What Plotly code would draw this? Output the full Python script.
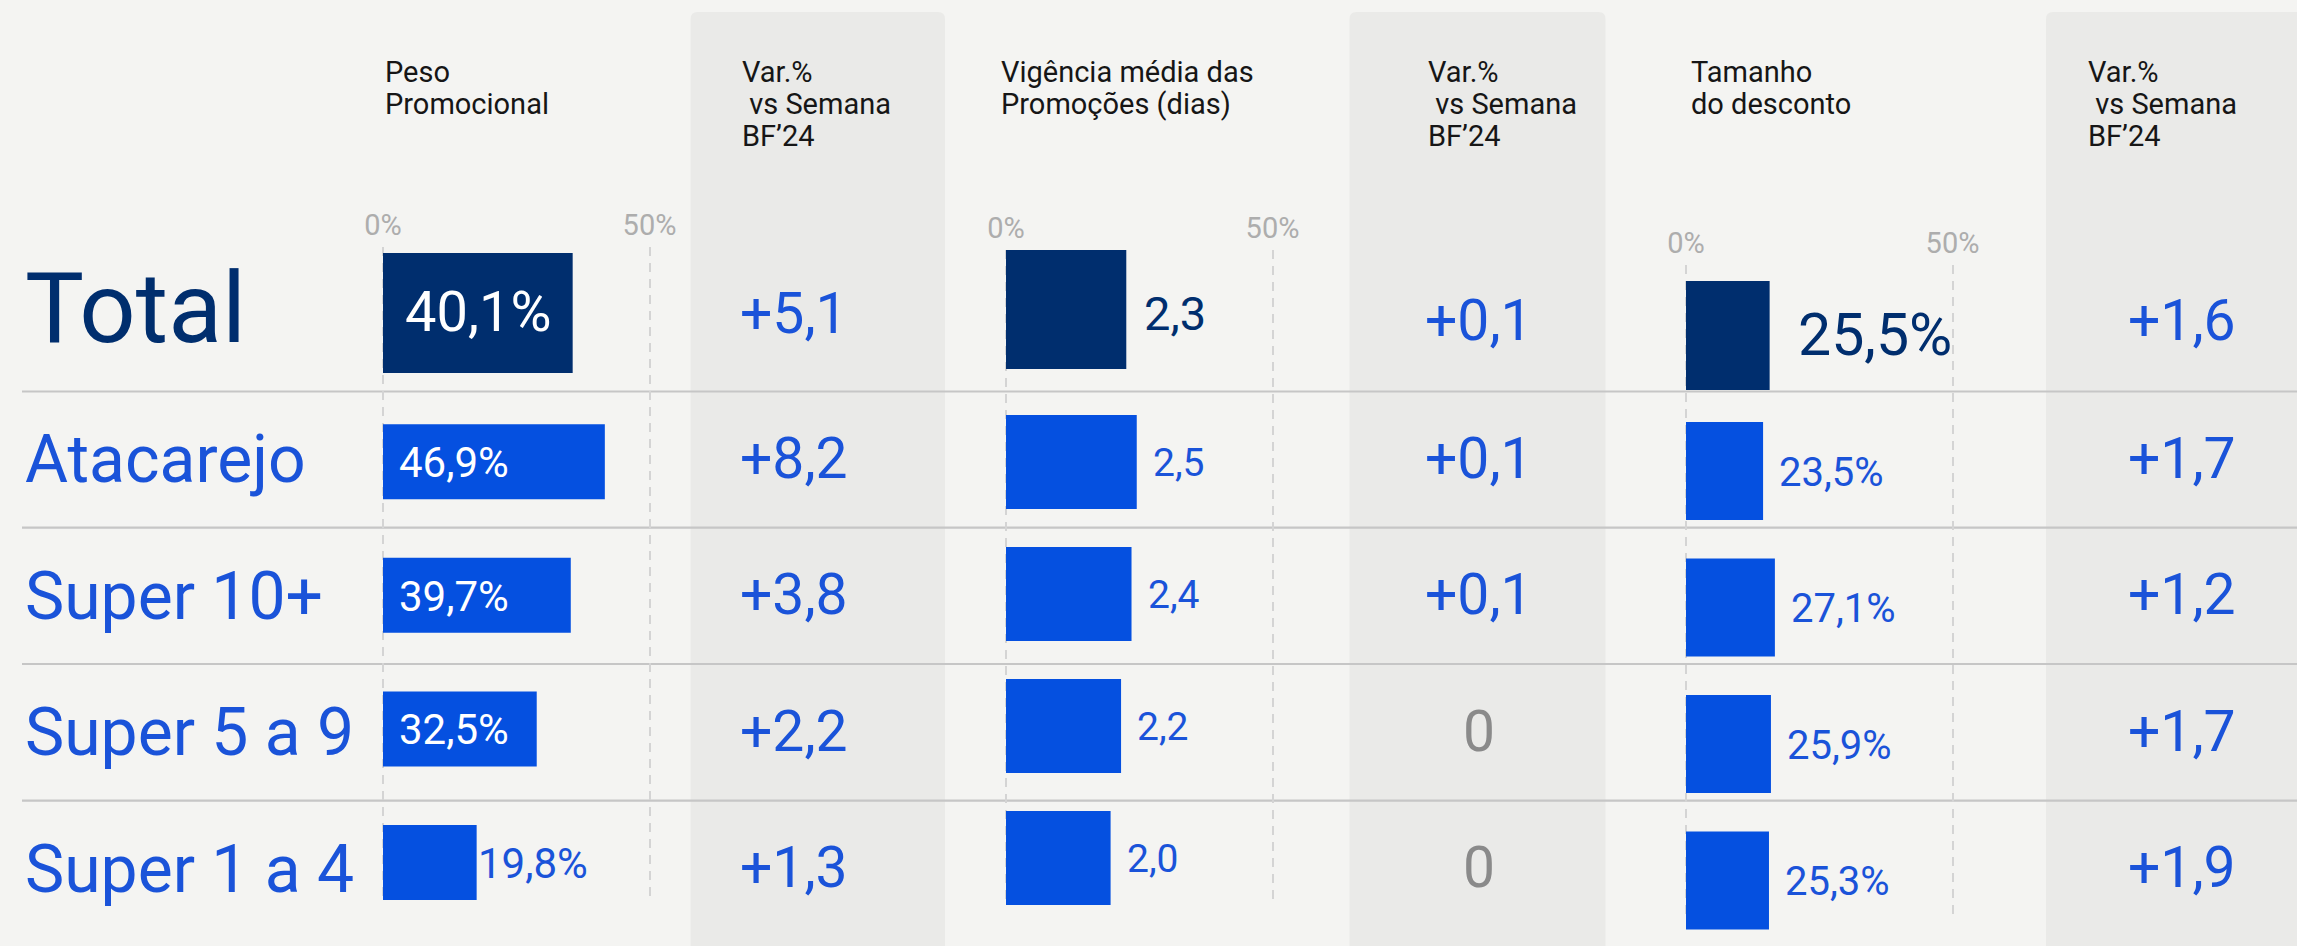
import plotly.graph_objects as go

W, H = 2297, 946

# ---------------- data ----------------
rows = ["Total", "Atacarejo", "Super 10+", "Super 5 a 9", "Super 1 a 4"]
peso_promocional = [40.1, 46.9, 39.7, 32.5, 19.8]      # %
var_peso = [5.1, 8.2, 3.8, 2.2, 1.3]
vigencia_dias = [2.3, 2.5, 2.4, 2.2, 2.0]               # dias
var_vigencia = [0.1, 0.1, 0.1, 0.0, 0.0]
tamanho_desconto = [25.5, 23.5, 27.1, 25.9, 25.3]       # %
var_desconto = [1.6, 1.7, 1.2, 1.7, 1.9]
scale_ticks = [0, 50]
scale_tick_labels = ["0%", "50%"]
header_peso = ["Peso", "Promocional"]
header_vig = ["Vigência média das", "Promoções (dias)"]
header_tam = ["Tamanho", "do desconto"]
header_var = ["Var.%", "\u00a0vs Semana", "BF’24"]

# ---------------- style ----------------
FONT = "Roboto"
NAVY = "#002e6e"
BLUE_BAR = "#0550e0"
BLUE_TXT = "#1a53d9"
BG = "#f4f4f2"
COLBG = "#eaeae8"
SEP = "#c6c6c6"
GRID = "#d4d4d4"
TICK = "#adadad"
ZERO_TXT = "#8a8a8a"
HEAD = "#161616"


def px_x(p):
    return p / W


def px_y(p):
    return 1 - p / H


def br(v, suffix=""):
    return f"{v:.1f}".replace(".", ",") + suffix


def br_var(v):
    if v == 0:
        return "0"
    return f"{v:+.1f}".replace(".", ",")


panels = [
    dict(values=peso_promocional, var=var_peso, suffix="%", header=header_peso,
         zero=383, ppu=4.73, total=(253, 373), c0=461.7, step=133.6, h=75,
         grid=(247, 900), head_x=383, var_x=794, var_head_x=740, var_total_y=313,
         col=(690.6, 945)),
    dict(values=vigencia_dias, var=var_vigencia, suffix="", header=header_vig,
         zero=1006, ppu=52.3, total=(250, 369), c0=462, step=132, h=94,
         grid=(250, 903), head_x=999, var_x=1479, var_head_x=1426, var_total_y=321,
         col=(1349.5, 1605.5)),
    dict(values=tamanho_desconto, var=var_desconto, suffix="%", header=header_tam,
         zero=1686, ppu=3.28, total=(281, 390), c0=471, step=136.5, h=98,
         grid=(265, 918), head_x=1689, var_x=2181.5, var_head_x=2086, var_total_y=321,
         col=(2046, 2297)),
]

DEC_SPAN = 266.5   # px between the 0% and 50% guide lines
BAR_SPAN = 320     # px width of the bar axes
SEP_ROWS = [391.5, 527.6, 664, 800.6]

fig = go.Figure()
layout = dict(
    width=W, height=H, autosize=False,
    margin=dict(l=0, r=0, t=0, b=0, pad=0, autoexpand=False),
    paper_bgcolor=BG, plot_bgcolor="rgba(0,0,0,0)",
    showlegend=False, font=dict(family=FONT),
)
annotations = []
shapes = []


def ann(text, x, y, xref, yref, size, color, xanchor="left", yanchor="middle",
        xshift=0, yshift=0):
    annotations.append(dict(
        text=text, x=x, y=y, xref=xref, yref=yref, showarrow=False,
        xanchor=xanchor, yanchor=yanchor, xshift=xshift, yshift=yshift,
        font=dict(family=FONT, size=size, color=color),
    ))


# grey "Var.%" column backgrounds (rounded top corners)
rx, ry = 7 / W, 7 / H
for p in panels:
    x0, x1 = px_x(p["col"][0]), px_x(p["col"][1])
    yt, yb = px_y(12), 0
    if p["col"][1] >= W:
        path = (f"M {x0},{yb} L {x0},{yt - ry} Q {x0},{yt} {x0 + rx},{yt} "
                f"L {x1},{yt} L {x1},{yb} Z")
    else:
        path = (f"M {x0},{yb} L {x0},{yt - ry} Q {x0},{yt} {x0 + rx},{yt} "
                f"L {x1 - rx},{yt} Q {x1},{yt} {x1},{yt - ry} L {x1},{yb} Z")
    shapes.append(dict(type="path", path=path, xref="paper", yref="paper",
                       fillcolor=COLBG, line=dict(width=0), layer="below"))

# row separators
for s in SEP_ROWS:
    shapes.append(dict(type="line", xref="paper", yref="paper",
                       x0=px_x(22), x1=1, y0=px_y(s), y1=px_y(s),
                       line=dict(color=SEP, width=2.2), layer="below"))

# decorative 0%-50% guide axes (drawn first -> below bars)
for i, p in enumerate(panels):
    sid = "" if i == 0 else str(i + 1)
    k = DEC_SPAN / 50
    pad = 14
    layout[f"xaxis{sid}"] = dict(
        domain=[px_x(p["zero"] - pad), px_x(p["zero"] + DEC_SPAN + pad)],
        range=[-pad / k, 50 + pad / k], anchor=f"y{sid}", side="top",
        tickmode="array", tickvals=scale_ticks, ticktext=scale_tick_labels,
        tickfont=dict(family=FONT, size=29, color=TICK), ticks="",
        ticklabelstandoff=5,
        showgrid=True, gridcolor=GRID, gridwidth=1.6, griddash="9px,7px",
        zeroline=False, showline=False, fixedrange=True,
    )
    layout[f"yaxis{sid}"] = dict(
        domain=[px_y(p["grid"][1]), px_y(p["grid"][0])], range=[0, 1],
        anchor=f"x{sid}", visible=False, fixedrange=True,
    )
    fig.add_trace(go.Scatter(x=[], y=[], xaxis=f"x{sid}", yaxis=f"y{sid}",
                             hoverinfo="skip", showlegend=False))

# bar panels
for i, p in enumerate(panels):
    xid = 4 + i
    ytid = 4 + 2 * i
    ydid = 5 + 2 * i
    layout[f"xaxis{xid}"] = dict(
        domain=[px_x(p["zero"]), px_x(p["zero"] + BAR_SPAN)],
        range=[0, BAR_SPAN / p["ppu"]], anchor=f"y{ytid}", visible=False,
        fixedrange=True,
    )
    layout[f"yaxis{ytid}"] = dict(
        domain=[px_y(p["total"][1]), px_y(p["total"][0])], range=[-0.5, 0.5],
        type="category", categoryorder="array", categoryarray=rows[:1],
        anchor=f"x{xid}", visible=False, fixedrange=True,
    )
    top_i = (391 - p["c0"]) / p["step"]
    bot_i = (946 - p["c0"]) / p["step"]
    layout[f"yaxis{ydid}"] = dict(
        domain=[0, px_y(391)], range=[bot_i, top_i],
        type="category", categoryorder="array", categoryarray=rows[1:],
        anchor=f"x{xid}", visible=False, fixedrange=True,
    )
    vals = p["values"]
    fig.add_trace(go.Bar(
        x=vals[:1], y=rows[:1], orientation="h", width=1.0,
        marker=dict(color=NAVY, line=dict(width=0)),
        xaxis=f"x{xid}", yaxis=f"y{ytid}", hoverinfo="skip", showlegend=False,
    ))
    fig.add_trace(go.Bar(
        x=vals[1:], y=rows[1:], orientation="h", width=p["h"] / p["step"],
        marker=dict(color=BLUE_BAR, line=dict(width=0)),
        xaxis=f"x{xid}", yaxis=f"y{ydid}", hoverinfo="skip", showlegend=False,
    ))

    # value labels
    sfx = p["suffix"]
    if i == 0:
        ann(br(vals[0], sfx), vals[0] / 2, rows[0], f"x{xid}", f"y{ytid}",
            56, "white", xanchor="center", yshift=1)
        for r, v in zip(rows[1:], vals[1:]):
            if v * p["ppu"] > 130:
                ann(br(v, sfx), 0, r, f"x{xid}", f"y{ydid}", 42, "white",
                    xshift=14, yshift=-1)
            else:
                ann(br(v, sfx), v, r, f"x{xid}", f"y{ydid}", 42, BLUE_TXT,
                    xshift=-1, yshift=-1)
    elif i == 1:
        ann(br(vals[0], sfx), vals[0], rows[0], f"x{xid}", f"y{ytid}",
            47, NAVY, xshift=16, yshift=-4)
        for r, v in zip(rows[1:], vals[1:]):
            ann(br(v, sfx), v, r, f"x{xid}", f"y{ydid}", 39, BLUE_TXT,
                xshift=14, yshift=-1)
    else:
        ann(br(vals[0], sfx), vals[0], rows[0], f"x{xid}", f"y{ytid}",
            59, NAVY, xshift=26, yshift=1)
        for r, v in zip(rows[1:], vals[1:]):
            ann(br(v, sfx), v, r, f"x{xid}", f"y{ydid}", 40, BLUE_TXT,
                xshift=14, yshift=-1)

# row labels (aligned on third panel's row axes)
ann(rows[0], px_x(23), rows[0], "paper", "y4", 99, NAVY, yshift=5)
for r in rows[1:]:
    ann(r, px_x(23), r, "paper", "y9", 66, BLUE_TXT, yshift=11.5)

# variation columns
for i, p in enumerate(panels):
    for j, (r, v) in enumerate(zip(rows, p["var"])):
        color = ZERO_TXT if v == 0 else BLUE_TXT
        if j == 0:
            ann(br_var(v), px_x(p["var_x"]), px_y(p["var_total_y"]), "paper", "paper",
                57, color, xanchor="center")
        else:
            ann(br_var(v), px_x(p["var_x"]), r, "paper", "y9", 57, color,
                xanchor="center", yshift=13)

# headers
for i, p in enumerate(panels):
    for j, line in enumerate(p["header"]):
        ann(line, px_x(p["head_x"]), px_y(72 + 32 * j), "paper", "paper", 29, HEAD)
    for j, line in enumerate(header_var):
        ann(line, px_x(p["var_head_x"]), px_y(72 + 32 * j), "paper", "paper", 29, HEAD)

layout["annotations"] = annotations
layout["shapes"] = shapes
fig.update_layout(**layout)

fig.write_html(
    "out.html",
    config={"displayModeBar": False, "responsive": False},
    post_script=(
        "document.body.style.margin='0';"
        "document.body.style.overflow='hidden';"
        "document.documentElement.style.overflow='hidden';"
    ),
)
